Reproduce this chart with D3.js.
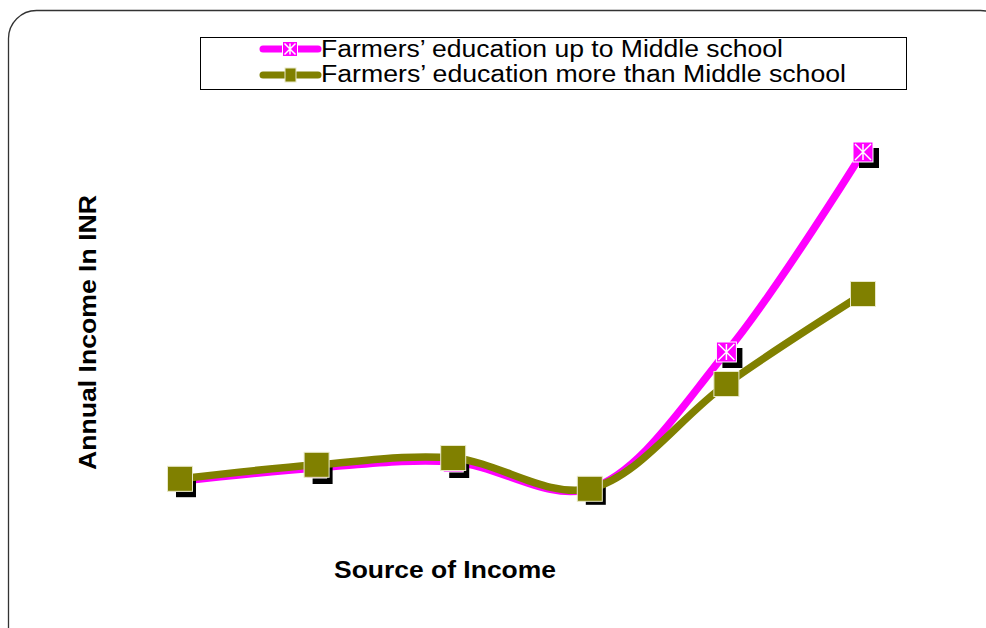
<!DOCTYPE html>
<html>
<head>
<meta charset="utf-8">
<script src="https://cdn.jsdelivr.net/npm/d3@7"></script>
<style>
  body { margin: 0; background: #fff; }
  svg { display: block; font-family: "Liberation Sans", Arial, sans-serif; }
</style>
</head>
<body>
<svg id="chart"></svg>
<script>
// data (source categories have no visible labels)
const sources = [1, 2, 3, 4, 5, 6]
const upToMiddle = [12.2, 15.5, 17, 10.3, 44.5, 94.5]
const moreThanMiddle = [12.8, 16.3, 18, 10.3, 36.5, 59]
const seriesNames = ["Farmers’ education up to Middle school", "Farmers’ education more than Middle school"]

const w = 986
const h = 628

let svg = d3.select('#chart').attr("width", w).attr("height", h)

// rounded frame
svg.append("rect")
  .attr("x", 8.5).attr("y", 10.5)
  .attr("width", 1000).attr("height", 650)
  .attr("rx", 28)
  .attr("fill", "none")
  .attr("stroke", "#333")
  .attr("stroke-width", 1.3)

let xScale = d3.scalePoint().domain(sources).range([180, 863])
let yScale = d3.scaleLinear().domain([0, 100]).range([530, 130])

let line = d3.line()
  .x((d, i) => xScale(sources[i]))
  .y(d => yScale(d))
  .curve(d3.curveCatmullRom.alpha(0.5))

// magenta series
svg.append("path")
  .attr("d", line(upToMiddle))
  .attr("fill", "none")
  .attr("stroke", "#ff00ff")
  .attr("stroke-width", 7.5)

let starMarker = (g, cx, cy, s, shadow) => {
  if (shadow) {
    g.append("rect").attr("x", cx - s / 2 + 6).attr("y", cy - s / 2 + 6)
      .attr("width", s).attr("height", s).attr("fill", "#000")
  }
  g.append("rect").attr("x", cx - s / 2).attr("y", cy - s / 2)
    .attr("width", s).attr("height", s)
    .attr("fill", "#ff00ff").attr("stroke", "#fff").attr("stroke-width", 1)
  let r = s / 2 - 2
  let p = `M${cx - r},${cy - r}L${cx + r},${cy + r}M${cx + r},${cy - r}L${cx - r},${cy + r}M${cx},${cy - r}L${cx},${cy + r}`
  g.append("path").attr("d", p).attr("stroke", "#fff").attr("stroke-width", 1.5)
}

let magG = svg.append("g")
upToMiddle.forEach((d, i) => starMarker(magG, xScale(sources[i]), yScale(d), 20, true))

// olive series
svg.append("path")
  .attr("d", line(moreThanMiddle))
  .attr("fill", "none")
  .attr("stroke", "#808000")
  .attr("stroke-width", 7.5)

svg.append("g").selectAll("rect")
  .data(moreThanMiddle)
  .enter()
  .append("rect")
  .attr("x", (d, i) => xScale(sources[i]) - 12.5)
  .attr("y", d => yScale(d) - 12.5)
  .attr("width", 25).attr("height", 25)
  .attr("fill", "#808000")
  .attr("stroke", "#e8e8c8")
  .attr("stroke-width", 1)

// legend
let legend = svg.append("g")
legend.append("rect")
  .attr("x", 200.5).attr("y", 37.5)
  .attr("width", 706).attr("height", 52)
  .attr("fill", "#fff").attr("stroke", "#000").attr("stroke-width", 1)

let legY = [49, 75]
legend.append("line").attr("x1", 263).attr("x2", 318).attr("y1", legY[0]).attr("y2", legY[0])
  .attr("stroke", "#ff00ff").attr("stroke-width", 7).attr("stroke-linecap", "round")
starMarker(legend, 290, legY[0], 15, false)
legend.append("line").attr("x1", 263).attr("x2", 318).attr("y1", legY[1]).attr("y2", legY[1])
  .attr("stroke", "#808000").attr("stroke-width", 7).attr("stroke-linecap", "round")
legend.append("rect").attr("x", 285).attr("y", legY[1] - 7).attr("width", 11).attr("height", 14)
  .attr("fill", "#808000").attr("stroke", "#e8e8c8").attr("stroke-width", 1)

let legLen = [462, 525]
legend.selectAll("text")
  .data(seriesNames)
  .enter()
  .append("text")
  .attr("x", 321)
  .attr("y", (d, i) => [56.5, 82][i])
  .attr("font-size", 23)
  .attr("textLength", (d, i) => legLen[i])
  .attr("lengthAdjust", "spacingAndGlyphs")
  .attr("fill", "#000")
  .text(d => d)

// axis titles
svg.append("text")
  .attr("transform", "translate(96,332.5) rotate(-90)")
  .attr("text-anchor", "middle")
  .attr("font-size", 23).attr("font-weight", "bold")
  .attr("textLength", 275).attr("lengthAdjust", "spacingAndGlyphs")
  .text("Annual Income In INR")

svg.append("text")
  .attr("x", 445).attr("y", 578)
  .attr("text-anchor", "middle")
  .attr("font-size", 23).attr("font-weight", "bold")
  .attr("textLength", 222).attr("lengthAdjust", "spacingAndGlyphs")
  .text("Source of Income")
</script>
</body>
</html>
